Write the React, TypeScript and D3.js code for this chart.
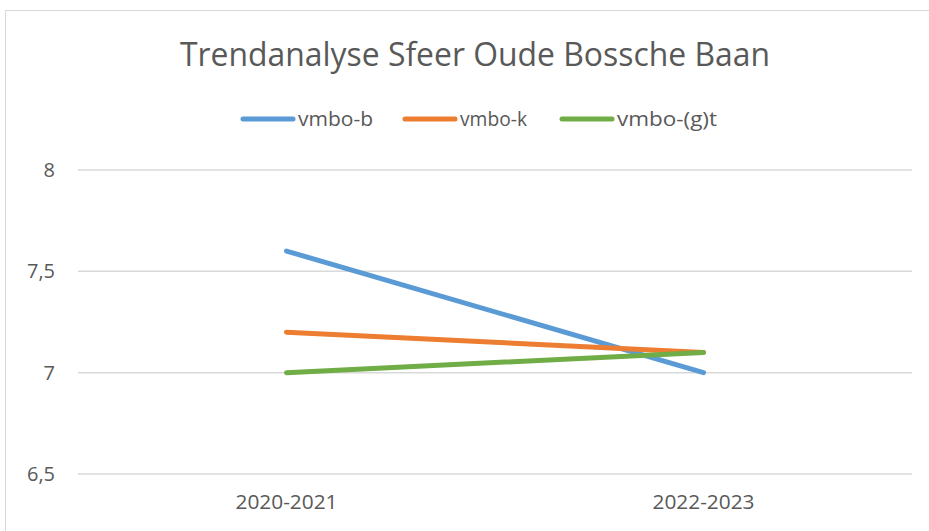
import React from "react";
import * as d3 from "d3";

const categories = ["2020-2021", "2022-2023"];
const seriesNames = ["vmbo-b", "vmbo-k", "vmbo-(g)t"];
const vmboB = [7.6, 7.0];
const vmboK = [7.2, 7.1];
const vmboGT = [7.0, 7.1];
const yTicks = [6.5, 7, 7.5, 8];
const colors = ["#5b9bd5", "#ed7d31", "#70ad47"];

const W = 929;
const H = 531;
const FONT = "'Liberation Sans Narrow', 'Arial Narrow', 'Open Sans', sans-serif";

export default function App() {
  const x = d3.scaleBand<string>().domain(categories).range([78, 912]);
  const y = d3.scaleLinear().domain([6.5, 8]).range([474, 170]);
  const line = d3
    .line<number>()
    .x((_, i) => (x(categories[i]) as number) + x.bandwidth() / 2)
    .y((d) => y(d));
  const series = [vmboB, vmboK, vmboGT];
  const fmt = (v: number) => String(v).replace(".", ",");
  const legendX = [241, 403, 560];
  const legendW = [75, 67, 100];

  return (
    <svg width={W} height={H} style={{ position: "absolute", left: 0, top: 0 }}>
      <rect x={0} y={0} width={W} height={H} fill="#fff" />
      <rect x={5.5} y={10.5} width={940} height={540} fill="#fff" stroke="#d9d9d9" strokeWidth={1} />
      <text
        x={475}
        y={66}
        textAnchor="middle"
        fontFamily={FONT}
        fontSize={32}
        fill="#595959"
        textLength={590}
        lengthAdjust="spacingAndGlyphs"
      >
        Trendanalyse Sfeer Oude Bossche Baan
      </text>
      {seriesNames.map((n, i) => (
        <g key={n}>
          <line
            x1={legendX[i] + 2}
            x2={legendX[i] + 52}
            y1={119}
            y2={119}
            stroke={colors[i]}
            strokeWidth={5}
            strokeLinecap="round"
          />
          <text
            x={legendX[i] + 57}
            y={126}
            fontFamily={FONT}
            fontSize={20}
            fill="#595959"
            textLength={legendW[i]}
            lengthAdjust="spacingAndGlyphs"
          >
            {n}
          </text>
        </g>
      ))}
      {yTicks.map((t) => (
        <g key={t}>
          <line x1={78} x2={912} y1={y(t)} y2={y(t)} stroke="#d9d9d9" strokeWidth={1.5} />
          <text
            x={55}
            y={y(t) + 7}
            textAnchor="end"
            fontFamily={FONT}
            fontSize={20}
            fill="#595959"
          >
            {fmt(t)}
          </text>
        </g>
      ))}
      {categories.map((c) => (
        <text
          key={c}
          x={(x(c) as number) + x.bandwidth() / 2}
          y={509}
          textAnchor="middle"
          fontFamily={FONT}
          fontSize={20}
          fill="#595959"
          textLength={102}
          lengthAdjust="spacingAndGlyphs"
        >
          {c}
        </text>
      ))}
      {series.map((s, i) => (
        <path
          key={i}
          d={line(s) as string}
          fill="none"
          stroke={colors[i]}
          strokeWidth={5}
          strokeLinecap="round"
        />
      ))}
    </svg>
  );
}
